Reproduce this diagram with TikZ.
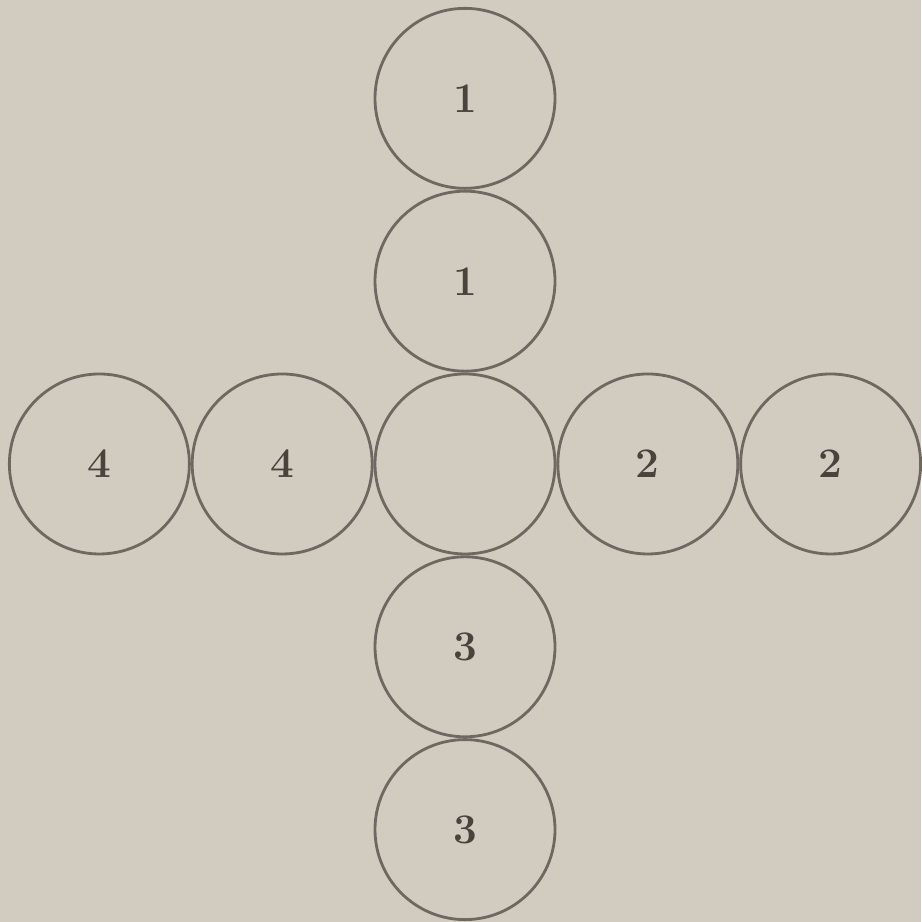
\documentclass[tikz,border=0pt]{standalone}
\usepackage{xcolor}
\definecolor{platebg}{HTML}{D2CBBF}
\definecolor{plateink}{HTML}{6E6860}
\definecolor{platetxt}{HTML}{48433D}
\usepackage{tikz}
\usetikzlibrary{positioning}

\begin{document}
\begin{tikzpicture}[x=1cm,y=1cm,node distance=0mm,
  disc/.style={draw=plateink,line width=0.8pt,circle,minimum size=18.0mm,inner sep=0pt,
    font=\large\bfseries,text=platetxt}]
\fill[platebg] (0,0) rectangle (9.21,9.22);
\useasboundingbox (0,0) rectangle (9.21,9.22);
% centre and the four arms
\node[disc] (mid) at (4.65,4.58) {};
\node[disc,above=of mid] (up1) {1};
\node[disc,above=of up1] (up2) {1};
\node[disc,right=of mid] (rt1) {2};
\node[disc,right=of rt1] (rt2) {2};
\node[disc,below=of mid] (dn1) {3};
\node[disc,below=of dn1] (dn2) {3};
\node[disc,left=of mid] (lt1) {4};
\node[disc,left=of lt1] (lt2) {4};
\end{tikzpicture}
\end{document}
